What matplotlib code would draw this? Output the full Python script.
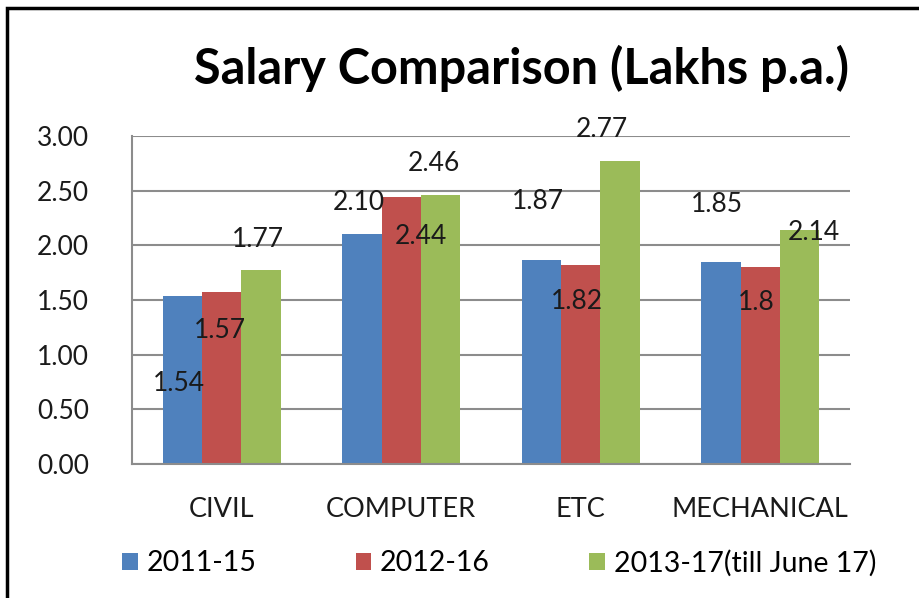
import matplotlib.pyplot as plt
from matplotlib.patches import Rectangle
import numpy as np

"""Salary comparison grouped bar chart, Excel style"""

categories = ["CIVIL", "COMPUTER", "ETC", "MECHANICAL"]
series_names = ["2011-15", "2012-16", "2013-17(till June 17)"]
sal_2011 = [1.54, 2.10, 1.87, 1.85]
sal_2012 = [1.57, 2.44, 1.82, 1.80]
sal_2013 = [1.77, 2.46, 2.77, 2.14]
label_text_2011 = ["1.54", "2.10", "1.87", "1.85"]
label_text_2012 = ["1.57", "2.44", "1.82", "1.8"]
label_text_2013 = ["1.77", "2.46", "2.77", "2.14"]
yticks = [0.0, 0.5, 1.0, 1.5, 2.0, 2.5, 3.0]

colors = ["#4f81bd", "#c0504d", "#9bbb59"]

# manually dragged data labels in the original: (x shift in category units, y in data units)
label_pos = [
    [(-0.02, 0.74), (-0.02, 2.39), (-0.02, 2.405), (-0.02, 2.37)],
    [(-0.01, 1.225), (0.11, 2.085), (-0.02, 1.49), (-0.02, 1.48)],
    [(-0.02, 2.05), (-0.04, 2.75), (-0.10, 3.055), (0.08, 2.12)],
]

plt.rcParams["font.family"] = ["Lato", "DejaVu Sans"]

fig = plt.figure(figsize=(9.19, 5.98), dpi=100)
ax = fig.add_axes([132 / 919, 1 - 464 / 598, 718 / 919, 328 / 598])

x = np.arange(len(categories))
width = 0.219
all_series = [sal_2011, sal_2012, sal_2013]
all_text = [label_text_2011, label_text_2012, label_text_2013]
for i, vals in enumerate(all_series):
    pos = x + (i - 1) * width
    ax.bar(pos, vals, width, color=colors[i], label=series_names[i], zorder=2)
    for j in range(len(categories)):
        dx, ly = label_pos[i][j]
        ax.text(pos[j] + dx, ly, all_text[i][j], ha="center", va="center",
                fontsize=19, color="#1a1a1a", zorder=3)

ax.set_xlim(-0.5, len(categories) - 0.5)
ax.set_ylim(0, 3.0)
ax.set_yticks(yticks)
ax.set_yticklabels([f"{t:.2f}" for t in yticks], fontsize=19, color="#1a1a1a")
ax.set_xticks(x)
ax.set_xticklabels(categories, fontsize=19.5, color="#1a1a1a")
ax.tick_params(axis="both", length=0)
ax.tick_params(axis="y", pad=31)
ax.tick_params(axis="x", pad=24)
ax.yaxis.grid(True, color="#8c8c8c", linewidth=1.5, zorder=0)
ax.set_axisbelow(True)
for side in ["top", "right"]:
    ax.spines[side].set_visible(False)
ax.spines["left"].set_color("#8c8c8c")
ax.spines["bottom"].set_color("#8c8c8c")
ax.spines["left"].set_linewidth(1.5)
ax.spines["bottom"].set_linewidth(1.5)

fig.text(521 / 919, 1 - 68 / 598, "Salary Comparison (Lakhs p.a.)", ha="center",
         va="center", fontsize=35, fontweight="bold", color="black")

fig.legend(loc="center", bbox_to_anchor=(499 / 919, 1 - 563 / 598), ncol=3,
           frameon=False, fontsize=20.5, handlelength=0.55, handleheight=0.55,
           handletextpad=0.3, columnspacing=3.5)

# outer frame of the screenshot
fig.patches.append(Rectangle((7 / 919, -0.05), 1.2, 1 - 8 / 598 + 0.05,
                             transform=fig.transFigure, fill=False,
                             edgecolor="black", linewidth=2.5))

fig.savefig("out.png", dpi=100)
